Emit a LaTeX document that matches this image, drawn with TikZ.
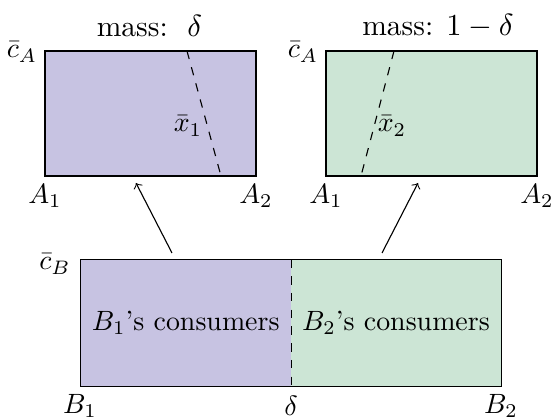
\documentclass[tikz,border=0pt]{standalone}
\usetikzlibrary{calc}
\definecolor{purp}{RGB}{199,195,226}
\definecolor{grn}{RGB}{204,229,213}
\begin{document}
\begin{tikzpicture}[x=0.3584pt,y=-0.3584pt,
  topbox/.style={draw=black,inner sep=0pt,minimum width=75.62pt,minimum height=44.8pt},
  halfbox/.style={inner sep=0pt,minimum width=75.3pt,minimum height=45.16pt},
  lbl/.style={inner sep=0pt},
  ttl/.style={inner sep=0pt,font=\fontsize{10.6}{12}\selectfont},
  conn/.style={->,line width=0.4pt}]
\useasboundingbox (0,0) rectangle (552,418);
% top boxes
\node[topbox,fill=purp] (ta) at (150.5,113.5) {};
\node[topbox,fill=grn] (tb) at (431.5,113.5) {};
% dashed thresholds
\coordinate (d1a) at (187,51);
\coordinate (d1b) at (221,176);
\coordinate (d2a) at (394,51);
\coordinate (d2b) at (361,176);
\draw[dashed] (d1a) -- (d1b);
\draw[dashed] (d2a) -- (d2b);
\node[lbl] (x1) at (188,126) {$\bar x_1$};
\node[lbl] (x2) at (392,126) {$\bar x_2$};
% titles
\node[ttl] (ma) at (149.5,26) {mass:\ \ $\delta$};
\node[ttl] (mb) at (438,26) {mass: $1-\delta$};
% axis labels top
\node[lbl] (cal) at (22,52) {$\bar c_A$};
\node[lbl] (car) at (303,52) {$\bar c_A$};
\node[lbl] (a1l) at (45,196) {$A_1$};
\node[lbl] (a2l) at (256,196) {$A_2$};
\node[lbl] (a1r) at (326,196) {$A_1$};
\node[lbl] (a2r) at (537,196) {$A_2$};
% bottom box
\node[halfbox,fill=purp] (b1) at (185.75,323) {$B_1$'s consumers};
\node[halfbox,fill=grn] (b2) at (396,323) {$B_2$'s consumers};
\draw (b1.north west) rectangle (b2.south east);
\draw[dashed] (b1.north east) -- (b1.south east);
\node[lbl] (cb) at (55,264) {$\bar c_B$};
\node[lbl] (bb1) at (80,406) {$B_1$};
\node[lbl] (dl) at (291,406) {$\delta$};
\node[lbl] (bb2) at (501,406) {$B_2$};
% arrows
\coordinate (s1) at (172,253);
\coordinate (e1) at (136,183);
\coordinate (s2) at (382,253);
\coordinate (e2) at (418,183);
\draw[conn] (s1) -- (e1);
\draw[conn] (s2) -- (e2);
\end{tikzpicture}
\end{document}
